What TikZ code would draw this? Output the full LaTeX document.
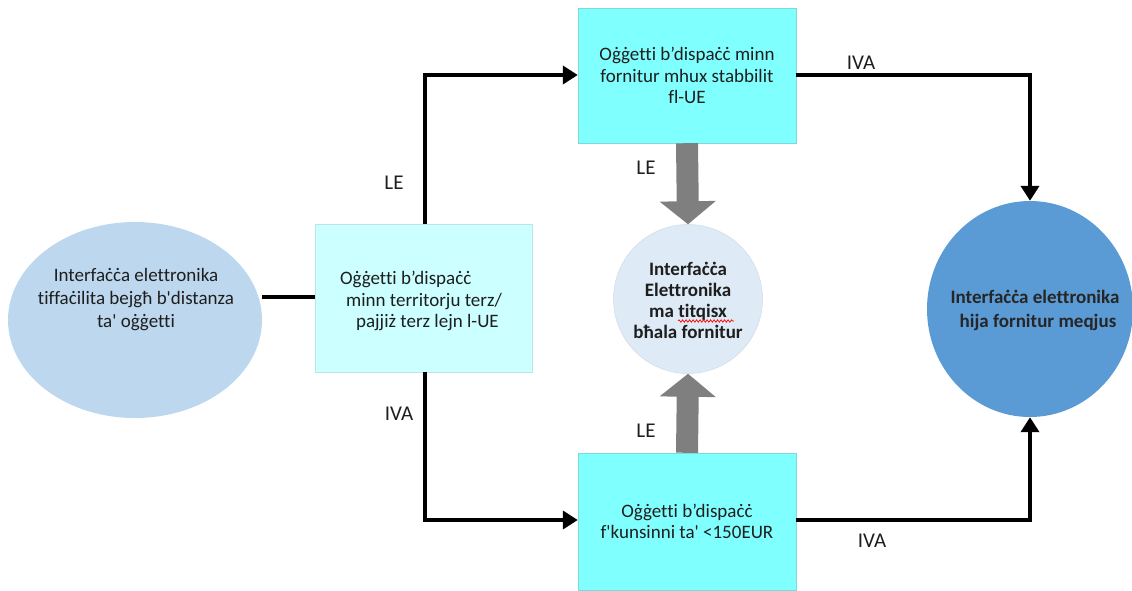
\documentclass[tikz,border=0pt]{standalone}
\usepackage{fontspec}
\setmainfont{Carlito}[Ligatures={TeXOff,CommonOff}]
\usetikzlibrary{arrows.meta,shapes.geometric,decorations.pathmorphing}
\definecolor{paleblue}{HTML}{BDD7EE}
\definecolor{palecyan}{HTML}{CCFFFF}
\definecolor{brightcyan}{HTML}{80FFFF}
\definecolor{mistblue}{HTML}{DEEBF7}
\definecolor{midblue}{HTML}{5B9BD5}
\definecolor{blockgray}{HTML}{7F7F7F}
\definecolor{inktext}{HTML}{1E1E1E}
\begin{document}
\begin{tikzpicture}[x=1pt,y=-1pt,
  font=\fontsize{19}{21.5}\selectfont, text=inktext,
  flow/.style={line width=4pt, -{Triangle[length=15pt,width=18pt]}},
  link/.style={line width=4pt},
  bigarrow/.style={line width=22pt, draw=blockgray, -{Triangle[length=23pt,width=55pt]}},
  cyanbox/.style={rectangle, fill=brightcyan, draw=brightcyan!70!gray, line width=0.4pt,
    minimum width=218pt, minimum height=136pt, inner sep=0pt, align=center},
  lbl/.style={font=\fontsize{21}{24}\selectfont}
]
\useasboundingbox (0,0) rectangle (1132,590);

% shapes
\node[ellipse, fill=paleblue, minimum width=254pt, minimum height=196pt, inner sep=0pt] (shop) at (135,320) {};
\node[align=center, font=\fontsize{19}{23}\selectfont] (shoptext) at (136,300) {Interfaċċa elettronika\\tiffaċilita bejgħ b'distanza\\ta' oġġetti};

\node[rectangle, fill=palecyan, draw=palecyan!80!gray, line width=0.4pt,
  minimum width=217pt, minimum height=148pt, inner sep=0pt] (third) at (423.5,298) {};
\node[align=left, font=\fontsize{19}{21.5}\selectfont] (thirdtext) at (421,301) {Oġġetti b’dispaċċ\\\hspace{6pt}minn territorju terz/\\\hspace{16pt}pajjiż terz lejn l-UE};

\node[cyanbox, minimum height=135pt] (nonest) at (687,75.5) {Oġġetti b’dispaċċ minn\\fornitur mhux stabbilit\\fl-UE};
\node[cyanbox, minimum height=137pt] (low) at (687,521.5) {Oġġetti b’dispaċċ\\f'kunsinni ta' <150EUR};

\node[circle, fill=mistblue, draw=mistblue!85!gray, line width=0.5pt, minimum size=149pt, inner sep=0pt] (mid) at (688,299) {};
\node[align=center, font=\bfseries\fontsize{19}{21}\selectfont] (midtext) at (688,300) {Interfaċċa\\Elettronika\\ma titqisx\\bħala fornitur};
\draw[red, line width=0.7pt, decorate, decoration={snake, amplitude=1.2pt, segment length=3.5pt}] (678,321) -- (734,321);

\node[ellipse, fill=midblue, minimum width=206pt, minimum height=216pt, inner sep=0pt] (deemed) at (1030,309) {};
\node[align=center, font=\bfseries\fontsize{19}{24}\selectfont, text=black!85] (deemedtext) at (1035,310) {Interfaċċa elettronika\\\hspace{6pt}hija fornitur meqjus};

% connectors
\draw[link] (shop.east |- 0,297) -- (third.west |- 0,297);
\draw[flow] (third.north -| 425,0) |- (nonest.west |- 0,75);
\draw[flow] (third.south -| 425,0) |- (low.west |- 0,520);
\draw[flow] (nonest.east |- 0,75) -| (deemed.north);
\draw[flow] (low.east |- 0,520) -| (deemed.south);
\draw[bigarrow] (nonest.south) -- (mid.north);
\draw[bigarrow] (low.north) -- (mid.south);

% labels
\node[lbl] (le1) at (394,183) {LE};
\node[lbl] (iva1) at (399,414) {IVA};
\node[lbl] (iva2) at (861,63) {IVA};
\node[lbl] (iva3) at (872,541) {IVA};
\node[lbl] (le2) at (646,168) {LE};
\node[lbl] (le3) at (646,431) {LE};
\end{tikzpicture}
\end{document}
